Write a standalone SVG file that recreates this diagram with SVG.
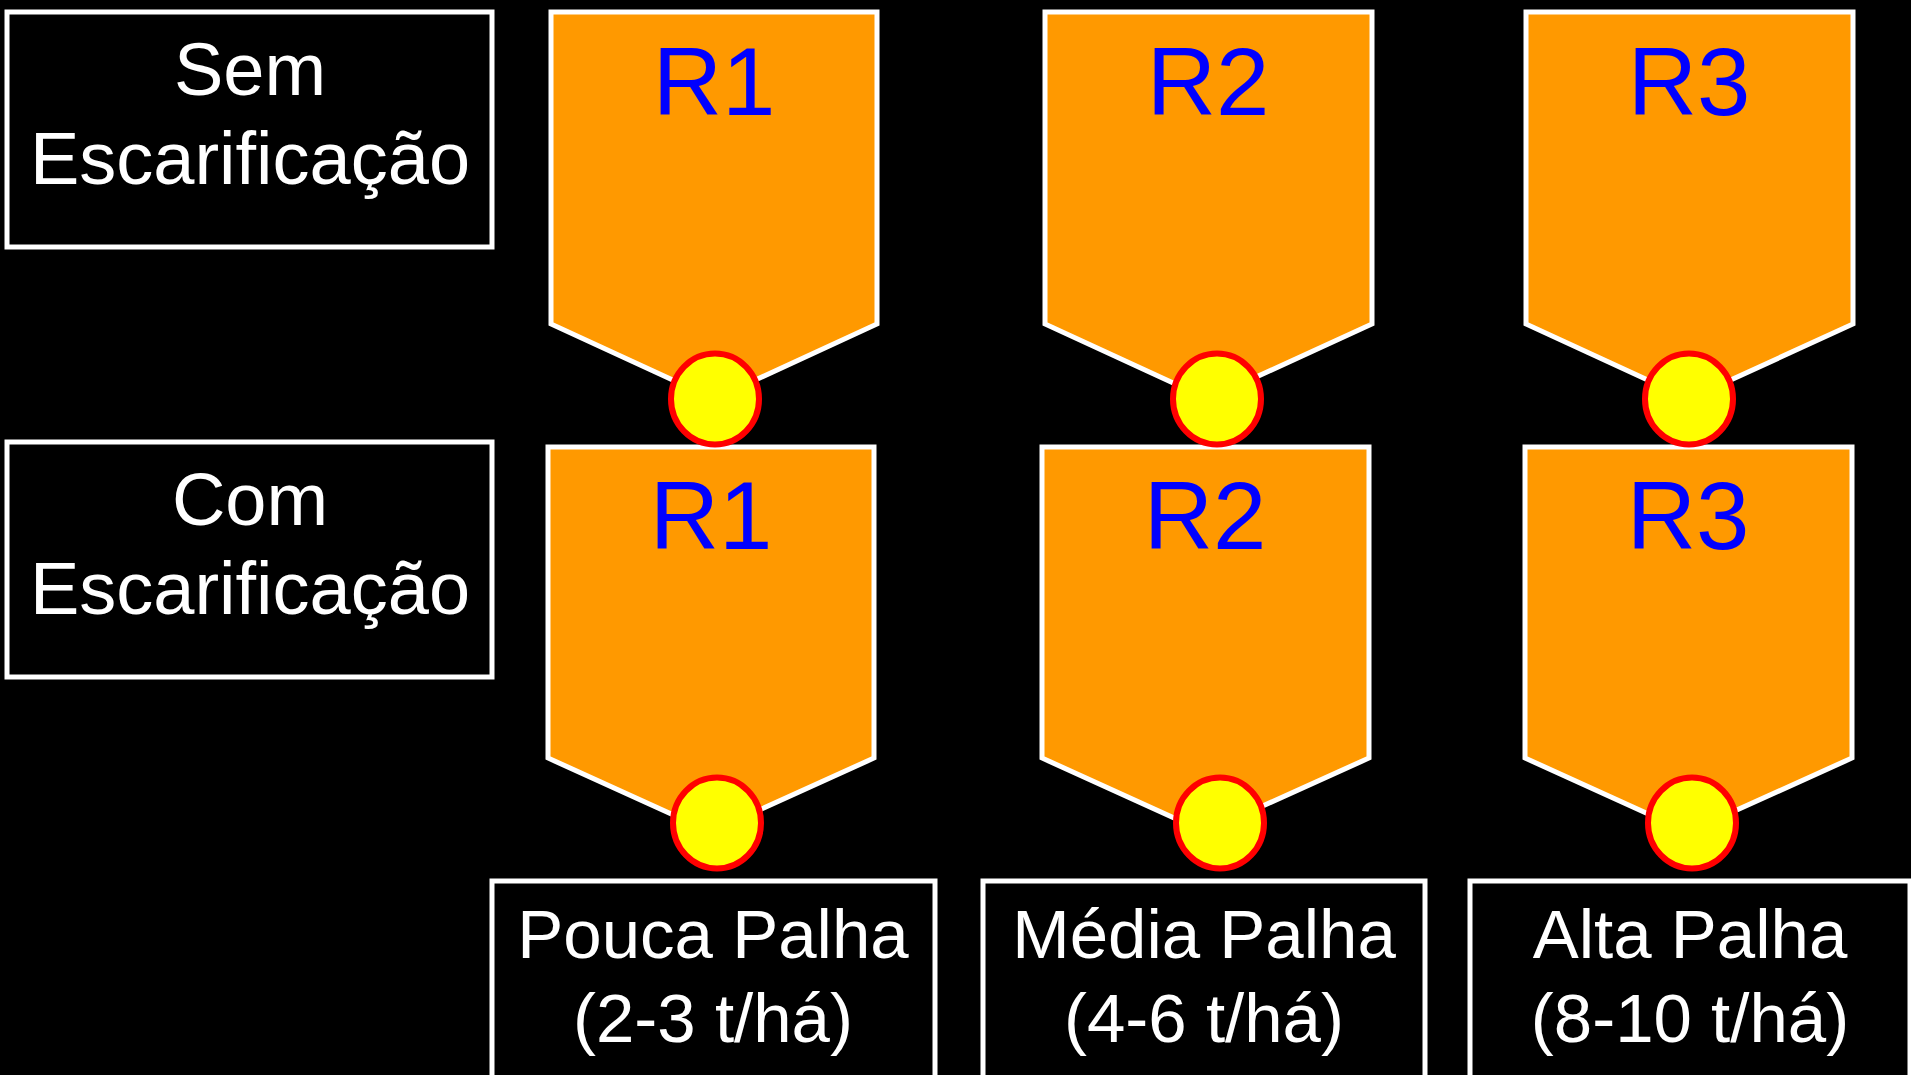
<svg xmlns="http://www.w3.org/2000/svg" width="1911" height="1075" viewBox="0 0 1911 1075">
<defs>
<style>
.box{fill:#000;stroke:#fff;stroke-width:5;}
.pent{fill:#FF9900;stroke:#fff;stroke-width:5;stroke-linejoin:miter;}
.dot{fill:#FFFF00;stroke:#FF0000;stroke-width:6;}
.lbl{font-family:"Liberation Sans",Arial,sans-serif;fill:#fff;text-anchor:middle;}
.r{font-family:"Liberation Sans",Arial,sans-serif;fill:#0000FF;text-anchor:middle;font-size:96px;}
</style>
</defs>
<rect x="0" y="0" width="1911" height="1075" fill="#000"/>
<g id="sem">
<rect class="box" x="7" y="12" width="485" height="235"/>
<text class="lbl" font-size="74" x="250" y="95">Sem</text>
<text class="lbl" font-size="74" x="250" y="184">Escarificação</text>
</g>
<g id="com">
<rect class="box" x="7" y="442" width="485" height="235"/>
<text class="lbl" font-size="74" x="250" y="525">Com</text>
<text class="lbl" font-size="74" x="250" y="614">Escarificação</text>
</g>
<g id="r1-sem">
<path class="pent" d="M551,12 H877 V324 L714,399 L551,324 Z"/>
<text class="r" x="714" y="115">R1</text>
</g>
<g id="r2-sem">
<path class="pent" d="M1045,12 H1372 V324 L1208,399 L1045,324 Z"/>
<text class="r" x="1208" y="115">R2</text>
</g>
<g id="r3-sem">
<path class="pent" d="M1526,12 H1853 V324 L1689,399 L1526,324 Z"/>
<text class="r" x="1689" y="115">R3</text>
</g>
<g id="r1-com">
<path class="pent" d="M548,447 H874 V758 L711,832 L548,758 Z"/>
<text class="r" x="711" y="549">R1</text>
</g>
<g id="r2-com">
<path class="pent" d="M1042,447 H1369 V758 L1205,832 L1042,758 Z"/>
<text class="r" x="1205" y="549">R2</text>
</g>
<g id="r3-com">
<path class="pent" d="M1525,447 H1852 V758 L1688,832 L1525,758 Z"/>
<text class="r" x="1688" y="549">R3</text>
</g>
<g id="dots">
<ellipse class="dot" cx="715" cy="399" rx="44" ry="45.5"/>
<ellipse class="dot" cx="1217" cy="399" rx="44" ry="45.5"/>
<ellipse class="dot" cx="1689" cy="399" rx="44" ry="45.5"/>
<ellipse class="dot" cx="717" cy="823" rx="44" ry="45.5"/>
<ellipse class="dot" cx="1220" cy="823" rx="44" ry="45.5"/>
<ellipse class="dot" cx="1692" cy="823" rx="44" ry="45.5"/>
</g>
<g id="pouca">
<rect class="box" x="492" y="881" width="443" height="210"/>
<text class="lbl" font-size="69" x="713" y="958">Pouca Palha</text>
<text class="lbl" font-size="69" x="713" y="1042">(2-3 t/há)</text>
</g>
<g id="media">
<rect class="box" x="983" y="881" width="442" height="210"/>
<text class="lbl" font-size="69" x="1204" y="958">Média Palha</text>
<text class="lbl" font-size="69" x="1204" y="1042">(4-6 t/há)</text>
</g>
<g id="alta">
<rect class="box" x="1470" y="881" width="440" height="210"/>
<text class="lbl" font-size="69" x="1690" y="958">Alta Palha</text>
<text class="lbl" font-size="69" x="1690" y="1042">(8-10 t/há)</text>
</g>
<g id="connectors"></g>
</svg>
